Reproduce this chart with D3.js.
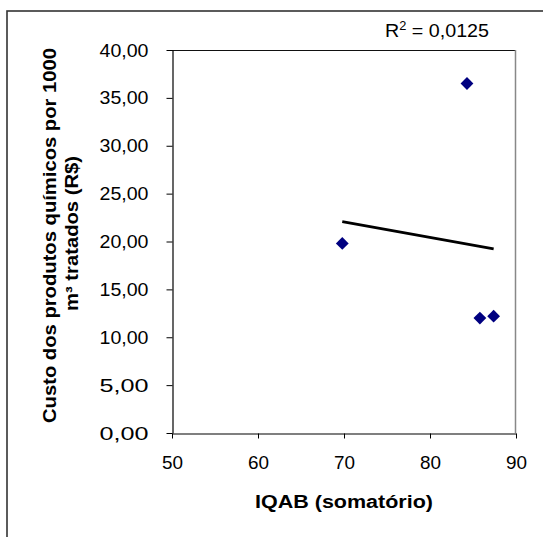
<!DOCTYPE html>
<html>
<head>
<meta charset="utf-8">
<script src="https://cdn.jsdelivr.net/npm/d3@7"></script>
<style>
  html, body { margin: 0; padding: 0; background: #fff; }
  svg { display: block; }
  text { font-family: "Liberation Sans", Arial, sans-serif; fill: #000; }
</style>
</head>
<body>
<svg id="chart" width="543" height="537"></svg>
<script>
// IQAB (sum) vs. chemical cost per 1000 m³ treated
const iqab = [69.8, 84.3, 85.8, 87.4];
const custo = [19.8, 36.5, 12.0, 12.2];
const xTicks = [50, 60, 70, 80, 90];
const yTicks = [0, 5, 10, 15, 20, 25, 30, 35, 40];
const rSquared = 0.0125;

const svg = d3.select("#chart");
const fmtComma = d => d3.format(".2f")(d).replace(".", ",");

const x = d3.scaleLinear().domain([50, 90]).range([172, 516]);
const y = d3.scaleLinear().domain([0, 40]).range([433, 50]);

// Outer chart frame (extends past the viewport on right and bottom)
svg.append("rect")
  .attr("x", 7).attr("y", 11).attr("width", 700).attr("height", 700)
  .attr("fill", "none").attr("stroke", "#333").attr("stroke-width", 1.6);

// Plot area border: top black, right gray
svg.append("line")
  .attr("x1", x(50)).attr("x2", x(90)).attr("y1", y(40) + 0.5).attr("y2", y(40) + 0.5)
  .attr("stroke", "#111").attr("stroke-width", 1);
svg.append("line")
  .attr("x1", x(90) - 0.5).attr("x2", x(90) - 0.5).attr("y1", y(40)).attr("y2", y(0))
  .attr("stroke", "#888").attr("stroke-width", 1.5);

// Y axis
const yAxis = svg.append("g")
  .attr("transform", `translate(${x(50) + 0.5},0)`)
  .call(d3.axisLeft(y).tickValues(yTicks).tickFormat(fmtComma).tickSize(6).tickSizeOuter(0).tickPadding(18));
yAxis.select(".domain").attr("stroke", "#000").attr("stroke-width", 1.2);
yAxis.selectAll(".tick line").attr("stroke", "#000");
yAxis.selectAll(".tick text")
  .attr("font-size", 19).attr("font-family", "'Liberation Sans', Arial, sans-serif")
  .attr("fill", "#000").attr("textLength", 49).attr("lengthAdjust", "spacingAndGlyphs");

// X axis
const xAxis = svg.append("g")
  .attr("transform", `translate(0,${y(0) + 0.5})`)
  .call(d3.axisBottom(x).tickValues(xTicks).tickFormat(d3.format("d")).tickSize(5).tickSizeOuter(0).tickPadding(17));
xAxis.select(".domain").attr("stroke", "#000").attr("stroke-width", 1.2);
xAxis.selectAll(".tick line").attr("stroke", "#000");
xAxis.selectAll(".tick text")
  .attr("font-size", 19).attr("font-family", "'Liberation Sans', Arial, sans-serif")
  .attr("fill", "#000").attr("textLength", 21).attr("lengthAdjust", "spacingAndGlyphs");

// Least-squares linear trend line
const mx = d3.mean(iqab), my = d3.mean(custo);
const sxy = d3.sum(iqab, (v, i) => (v - mx) * (custo[i] - my));
const sxx = d3.sum(iqab, v => (v - mx) * (v - mx));
const slope = sxy / sxx, intercept = my - slope * mx;
const [xMin, xMax] = d3.extent(iqab);
svg.append("line")
  .attr("x1", x(xMin)).attr("y1", y(intercept + slope * xMin))
  .attr("x2", x(xMax)).attr("y2", y(intercept + slope * xMax))
  .attr("stroke", "#000").attr("stroke-width", 2.8);

// Data markers (diamonds)
const diamond = d3.symbol().type(d3.symbolSquare).size(82);
svg.append("g").selectAll("path")
  .data(iqab.map((v, i) => [v, custo[i]]))
  .join("path")
  .attr("d", diamond)
  .attr("transform", d => `translate(${x(d[0])},${y(d[1])}) rotate(45)`)
  .attr("fill", "#000080");

// R² label
const r2 = svg.append("text")
  .attr("x", 437).attr("y", 37).attr("text-anchor", "middle")
  .attr("font-size", 18.5).attr("textLength", 104).attr("lengthAdjust", "spacingAndGlyphs");
r2.append("tspan").text("R");
r2.append("tspan").attr("font-size", 12).attr("dy", -7).text("2");
r2.append("tspan").attr("dy", 7).text(" = " + d3.format(".4f")(rSquared).replace(".", ","));

// Axis titles
svg.append("text")
  .attr("x", 344).attr("y", 508).attr("text-anchor", "middle")
  .attr("font-size", 18).attr("font-weight", "bold")
  .attr("textLength", 178).attr("lengthAdjust", "spacingAndGlyphs")
  .text("IQAB (somatório)");

const yTitle = svg.append("g").attr("transform", "translate(0,235.5) rotate(-90)");
yTitle.append("text")
  .attr("x", 0).attr("y", 56).attr("text-anchor", "middle")
  .attr("font-size", 17.5).attr("font-weight", "bold")
  .attr("textLength", 375).attr("lengthAdjust", "spacingAndGlyphs")
  .text("Custo dos produtos químicos por 1000");
yTitle.append("text")
  .attr("x", 2).attr("y", 78).attr("text-anchor", "middle")
  .attr("font-size", 17.5).attr("font-weight", "bold")
  .attr("textLength", 155).attr("lengthAdjust", "spacingAndGlyphs")
  .text("m³ tratados (R$)");
</script>
</body>
</html>
